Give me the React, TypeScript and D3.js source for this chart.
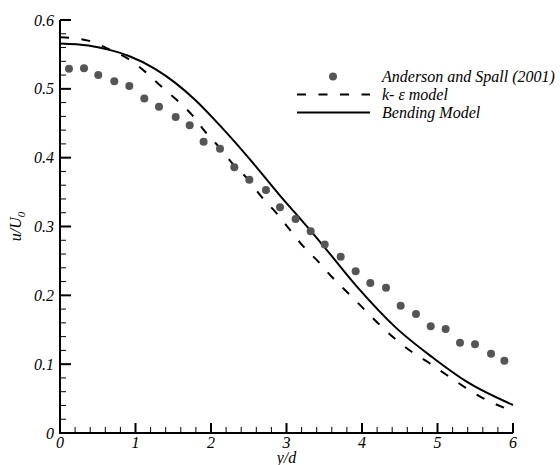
import React from "react";
import * as d3 from "d3";

// Anderson and Spall (2001) experimental points
const expX = [0.119, 0.318, 0.507, 0.719, 0.918, 1.117, 1.311, 1.532, 1.718, 1.902, 2.119, 2.309, 2.508, 2.728, 2.914, 3.12, 3.32, 3.506, 3.718, 3.916, 4.11, 4.318, 4.512, 4.715, 4.91, 5.108, 5.298, 5.497, 5.709, 5.886];
const expU = [0.529, 0.530, 0.520, 0.511, 0.504, 0.486, 0.474, 0.459, 0.447, 0.423, 0.413, 0.386, 0.368, 0.353, 0.328, 0.311, 0.293, 0.274, 0.256, 0.235, 0.218, 0.211, 0.185, 0.173, 0.155, 0.151, 0.131, 0.129, 0.115, 0.105];

// k-epsilon model (dashed)
const keX = [0, 0.375, 0.64, 0.927, 1.126, 1.347, 1.545, 1.766, 1.921, 2.119, 2.295, 2.494, 2.671, 2.87, 3.046, 3.223, 3.421, 3.599, 3.818, 4.018, 4.216, 4.658, 4.901, 5.122, 5.364, 5.607, 5.871, 6.0];
const keU = [0.575, 0.570, 0.558, 0.542, 0.525, 0.503, 0.484, 0.460, 0.438, 0.414, 0.390, 0.368, 0.343, 0.319, 0.295, 0.271, 0.249, 0.227, 0.203, 0.181, 0.159, 0.118, 0.101, 0.0843, 0.0664, 0.0504, 0.0373, 0.032];

// Bending model (solid)
const bmX = [0, 0.375, 0.64, 0.905, 1.258, 1.523, 1.788, 2.03, 2.473, 2.914, 3.311, 3.488, 3.93, 4.459, 4.944, 5.386, 6.0];
const bmU = [0.566, 0.563, 0.557, 0.548, 0.529, 0.509, 0.484, 0.457, 0.403, 0.345, 0.295, 0.272, 0.213, 0.152, 0.109, 0.0746, 0.0407];

const xTicks = [0, 1, 2, 3, 4, 5, 6];
const yTicks = [0, 0.1, 0.2, 0.3, 0.4, 0.5, 0.6];
const legendLabels = ["Anderson and Spall (2001)", "k- \u03b5 model", "Bending Model"];

const W = 560;
const H = 465;
const left = 60;
const right = 513;
const top = 20;
const bottom = 433;
const font = "Liberation Serif, Times New Roman, DejaVu Serif, serif";
const ts: React.CSSProperties = { fontFamily: font, fontStyle: "italic", fontSize: 16 };

export default function App() {
  const x = d3.scaleLinear().domain([0, 6]).range([left, right]);
  const y = d3.scaleLinear().domain([0, 0.6]).range([bottom, top]);

  const line = d3
    .line<[number, number]>()
    .x((d) => x(d[0]))
    .y((d) => y(d[1]))
    .curve(d3.curveMonotoneX);

  const kePts: [number, number][] = keX.map((v, i) => [v, keU[i]]);
  const bmPts: [number, number][] = bmX.map((v, i) => [v, bmU[i]]);

  const xMinor = d3.range(0, 30).map((i) => i * 0.2).filter((_, i) => i % 5 !== 0);
  const yMinor = d3.range(0, 30).map((i) => i * 0.02).filter((_, i) => i % 5 !== 0);

  const dash = "9,12.5";

  return (
    <svg
      width={W}
      height={H}
      style={{ position: "absolute", left: 0, top: 0, background: "#fff" }}
    >
      <rect x={0} y={0} width={W} height={H} fill="#fff" />
      {/* curves */}
      <path d={line(kePts) || ""} fill="none" stroke="#000" strokeWidth={2} strokeDasharray={dash} />
      <path d={line(bmPts) || ""} fill="none" stroke="#000" strokeWidth={2} />
      {/* experimental points */}
      {expX.map((v, i) => (
        <circle key={i} cx={x(v)} cy={y(expU[i])} r={4} fill="#555" />
      ))}

      {/* axes */}
      <line x1={left} x2={left} y1={top} y2={bottom + 1} stroke="#000" strokeWidth={2} />
      <line x1={left - 1} x2={right} y1={bottom} y2={bottom} stroke="#000" strokeWidth={2} />

      {xTicks.map((t) => (
        <line key={"xt" + t} x1={x(t)} x2={x(t)} y1={bottom} y2={bottom - 10} stroke="#000" strokeWidth={2} />
      ))}
      {xMinor.map((t, i) => (
        <line key={"xm" + i} x1={x(t)} x2={x(t)} y1={bottom} y2={bottom - 6} stroke="#000" strokeWidth={1} />
      ))}
      {yTicks.map((t) => (
        <line key={"yt" + t} x1={left} x2={left + 11} y1={y(t)} y2={y(t)} stroke="#000" strokeWidth={2} />
      ))}
      {yMinor.map((t, i) => (
        <line key={"ym" + i} x1={left} x2={left + 6} y1={y(t)} y2={y(t)} stroke="#000" strokeWidth={1} />
      ))}

      {xTicks.map((t) => (
        <text key={"xl" + t} x={x(t)} y={448} textAnchor="middle" style={ts}>
          {String(t)}
        </text>
      ))}
      {yTicks.map((t) => (
        <text key={"yl" + t} x={54} y={y(t) + 5.5} textAnchor="end" style={ts}>
          {t === 0 ? "0" : d3.format(".1f")(t)}
        </text>
      ))}

      {/* axis titles */}
      <text x={(left + right) / 2} y={463} textAnchor="middle" style={ts}>
        y/d
      </text>
      <text
        transform={`translate(20.5, ${(top + bottom) / 2}) rotate(-90)`}
        textAnchor="middle"
        style={ts}
      >
        u/U
        <tspan style={{ fontSize: 11 }} dy={4}>0</tspan>
      </text>

      {/* legend */}
      <circle cx={333} cy={76.5} r={4} fill="#555" />
      <line x1={297} x2={370} y1={94.5} y2={94.5} stroke="#000" strokeWidth={2} strokeDasharray={dash} />
      <line x1={297} x2={370} y1={112.5} y2={112.5} stroke="#000" strokeWidth={2} />
      {legendLabels.map((l, i) => (
        <text key={l} x={382} y={81.5 + i * 18} style={ts}>
          {l}
        </text>
      ))}
    </svg>
  );
}
